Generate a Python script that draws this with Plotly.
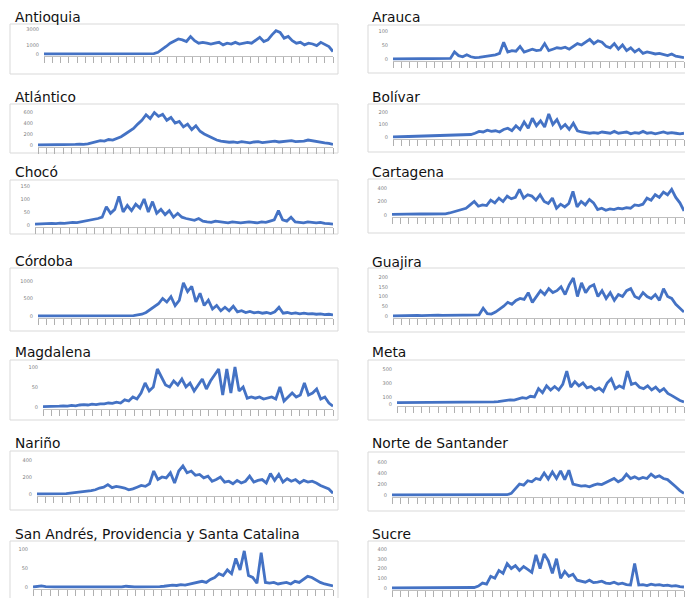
import plotly.graph_objects as go

W, H = 685, 598

titles = ["Antioquia", "Atlántico", "Chocó", "Córdoba", "Magdalena", "Nariño",
          "San Andrés, Providencia y Santa Catalina",
          "Arauca", "Bolívar", "Cartagena", "Guajira", "Meta", "Norte de Santander", "Sucre"]

antioquia = [0]*27 + [50, 200, 500, 900, 1300, 1600, 1800, 1700, 1500, 2100, 1600, 1300, 1400, 1300,
             1200, 1300, 1400, 1100, 1300, 1200, 1400, 1200, 1300, 1400, 1300, 1700, 2000, 1500, 1700,
             2300, 2800, 2600, 1900, 2100, 1600, 1300, 1400, 1100, 1300, 1200, 1000, 1400, 1100, 900, 300]
atlantico = [0, 0, 5, 10, 5, 0, 5, 10, 5, 10, 15, 10, 20, 40, 60, 80, 70, 100, 90, 120, 150, 200, 250,
             300, 380, 450, 550, 480, 590, 520, 560, 450, 500, 400, 430, 330, 380, 280, 350, 250, 200,
             160, 120, 90, 70, 60, 50, 55, 45, 60, 50, 40, 55, 60, 45, 50, 65, 70, 55, 60, 75, 80, 60,
             65, 70, 90, 75, 60, 55, 40, 30, 10]
choco = [3, 4, 5, 4, 6, 5, 7, 6, 8, 10, 9, 12, 15, 18, 20, 25, 30, 70, 45, 60, 110, 50, 75, 55, 80, 65,
         100, 50, 90, 45, 60, 40, 55, 30, 45, 30, 25, 20, 18, 25, 15, 12, 10, 15, 12, 10, 8, 12, 10, 8,
         10, 12, 10, 8, 12, 10, 15, 20, 55, 20, 15, 30, 12, 10, 8, 12, 10, 8, 10, 6, 5, 3]
cordoba = [0]*23 + [10, 30, 50, 100, 180, 250, 350, 500, 400, 550, 300, 450, 950, 700, 850, 400, 650,
           300, 450, 200, 300, 150, 250, 150, 280, 120, 150, 100, 130, 90, 110, 80, 100, 70, 120, 250,
           80, 100, 70, 90, 60, 80, 60, 70, 50, 60, 40, 50, 30]
magdalena = [1, 1, 2, 1, 2, 3, 2, 4, 3, 5, 6, 5, 7, 6, 8, 8, 10, 9, 12, 10, 18, 15, 25, 20, 35, 60, 40,
             50, 95, 75, 55, 50, 65, 55, 70, 50, 60, 40, 55, 70, 45, 65, 80, 95, 30, 95, 35, 100, 40,
             50, 22, 25, 22, 25, 20, 22, 25, 20, 50, 15, 25, 35, 25, 30, 60, 30, 35, 45, 20, 25, 10, 2]
narino = [0, 0, 0, 1, 1, 2, 3, 5, 10, 15, 20, 25, 30, 40, 50, 70, 80, 110, 75, 90, 80, 70, 50, 60, 80,
          100, 90, 120, 270, 170, 200, 190, 250, 130, 270, 330, 250, 270, 220, 230, 190, 210, 150, 170,
          200, 140, 150, 120, 160, 130, 150, 210, 140, 160, 170, 130, 240, 160, 230, 140, 180, 150,
          170, 130, 160, 140, 150, 130, 100, 80, 60, 10]
san_andres = [0, 1, 3, 1] + [0]*18 + [2, 0, 0, 0, 0, 0, 1, 0, 1] + [2, 3, 5, 4, 6, 5, 8, 10, 12, 15, 12,
              20, 25, 35, 30, 45, 35, 75, 45, 95, 30, 25, 10, 90, 12, 10, 12, 8, 10, 12, 8, 15, 12, 20,
              28, 25, 18, 12, 8, 5, 3]
arauca = [0, 0, 0, 0, 0, 0, 1, 0, 0, 0, 0, 1, 0, 0, 2, 25, 12, 8, 15, 8, 5, 6, 8, 10, 12, 15, 20, 60,
          25, 30, 28, 45, 25, 30, 35, 30, 32, 55, 30, 35, 40, 38, 42, 35, 45, 55, 50, 60, 70, 55, 65,
          60, 45, 40, 55, 35, 50, 30, 40, 25, 35, 20, 25, 22, 18, 20, 15, 12, 18, 10, 8, 5]
bolivar = [0, 1, 2, 2, 3, 4, 5, 5, 6, 6, 8, 8, 10, 10, 12, 12, 15, 15, 18, 20, 30, 45, 40, 55, 45, 50,
           40, 60, 70, 50, 90, 60, 120, 70, 150, 90, 130, 80, 185, 100, 140, 70, 100, 60, 110, 50, 40,
           35, 30, 35, 30, 40, 35, 30, 45, 30, 35, 40, 25, 35, 30, 45, 30, 35, 25, 30, 40, 30, 35, 30,
           25, 30]
cartagena = [10, 12, 15, 15, 15, 14, 15, 16, 15, 15, 16, 15, 15, 18, 30, 50, 60, 80, 100, 150, 200,
             130, 150, 140, 220, 180, 250, 200, 280, 240, 260, 380, 250, 300, 280, 220, 300, 200, 170,
             250, 100, 160, 120, 170, 350, 120, 200, 150, 230, 180, 80, 100, 70, 90, 80, 100, 90, 110,
             100, 150, 140, 160, 250, 220, 300, 260, 340, 300, 380, 260, 180, 60]
guajira = [0, 1, 1, 2, 1, 2, 3, 2, 3, 4, 3, 5, 3, 4, 5, 4, 6, 5, 4, 5, 4, 6, 40, 12, 10, 20, 35, 50,
           70, 60, 80, 90, 85, 120, 70, 100, 130, 110, 140, 120, 130, 150, 110, 160, 195, 100, 170,
           120, 150, 160, 100, 130, 90, 120, 80, 110, 100, 130, 140, 100, 90, 120, 100, 90, 110, 80,
           140, 100, 90, 60, 40, 20]
meta = [20, 20, 20, 22, 20, 22, 25, 25, 28, 30, 30, 25, 25, 22, 22, 20, 20, 20, 22, 20, 20, 22, 20,
        25, 30, 35, 45, 50, 60, 55, 70, 90, 80, 110, 100, 220, 160, 260, 200, 250, 200, 280, 470, 240,
        320, 260, 300, 230, 250, 200, 230, 180, 300, 360, 220, 260, 230, 470, 280, 300, 240, 220, 260,
        200, 240, 180, 220, 150, 120, 80, 50, 30]
norte_santander = [0, 0, 0, 1, 0, 0, 1, 0, 0, 1, 0, 0, 1, 0, 0, 1, 0, 0, 1, 0, 0, 1, 0, 0, 1, 0, 0, 2,
                   5, 30, 120, 200, 180, 260, 240, 300, 280, 400, 290, 420, 300, 440, 280, 450, 200,
                   180, 160, 170, 150, 180, 200, 190, 230, 260, 300, 240, 280, 380, 300, 330, 290,
                   320, 300, 380, 320, 350, 300, 280, 220, 150, 80, 30]
sucre = [0]*20 + [5, 20, 50, 40, 120, 100, 180, 150, 250, 200, 230, 180, 220, 190, 160, 340, 200, 350,
         280, 150, 300, 100, 170, 120, 140, 80, 70, 60, 80, 55, 60, 70, 50, 45, 60, 40, 50, 35, 30, 250,
         30, 35, 25, 40, 30, 35, 25, 30, 20, 25, 15, 10]

series = [antioquia, atlantico, choco, cordoba, magdalena, narino, san_andres,
          arauca, bolivar, cartagena, guajira, meta, norte_santander, sucre]

y_ticks = [[0, 1000, 3000], [0, 200, 400, 600], [0, 50, 100, 150], [0, 500, 1000],
           [0, 50, 100], [0, 200, 400], [0, 50, 100],
           [0, 50, 100], [0, 100, 200], [0, 200, 400], [0, 50, 100, 150, 200],
           [0, 100, 300, 500], [0, 200, 400, 600], [0, 100, 200, 300, 400]]

# layout (pixels): col, title_y, box_y0, box_y1, plot_x0, top-tick pixel, zero pixel
geom = [
    (0, 17, 24, 74, 44, 29, 54),
    (0, 97, 104, 153, 38, 112, 145),
    (0, 172, 180, 234, 35, 186, 225),
    (0, 261, 268, 331, 38, 281, 316),
    (0, 352, 360, 420, 43, 367, 407),
    (0, 443, 451, 510, 37, 460, 494),
    (0, 534, 541, 605, 33, 549, 587),
    (1, 17, 25, 73, 393, 31, 59),
    (1, 97, 104, 152, 393, 112, 137),
    (1, 172, 179, 233, 392, 188, 215),
    (1, 262, 268, 332, 393, 277, 316),
    (1, 352, 360, 420, 397, 369, 404),
    (1, 443, 452, 511, 392, 462, 495),
    (1, 534, 541, 605, 392, 549, 588),
]

fig = go.Figure()
shapes, annotations = [], []
for k, (vals, ticks, g, title) in enumerate(zip(series, y_ticks, geom, titles)):
    col, ty, by0, by1, px0, ptop, pbase = g
    idx = k + 1
    xa = "x" if idx == 1 else f"x{idx}"
    ya = "y" if idx == 1 else f"y{idx}"
    px1 = 333 if col == 0 else 684
    bx0 = 10 if col == 0 else 368
    bx1 = 338 if col == 0 else 700
    T = ticks[-1]
    ppu = (pbase - ptop) / T
    top_px = ptop - 4
    bot_px = pbase + 1.5
    yr = [-(1.5) / ppu, T + 4 / ppu]
    n = len(vals)
    fig.add_trace(go.Scatter(x=list(range(n)), y=vals, mode="lines",
                             line=dict(color="#4472C4", width=2.8),
                             xaxis=xa, yaxis=ya, showlegend=False, hoverinfo="skip"))
    xkey = "xaxis" if idx == 1 else f"xaxis{idx}"
    ykey = "yaxis" if idx == 1 else f"yaxis{idx}"
    fig.layout[xkey] = dict(domain=[px0 / W, px1 / W], anchor=ya, range=[0, n - 1],
                            tickmode="linear", tick0=0, dtick=(n - 1) / 35,
                            ticks="outside", ticklen=6, tickwidth=1, tickcolor="#b0b0b0",
                            showticklabels=False, showgrid=False, zeroline=False,
                            showline=True, linecolor="#bfbfbf", fixedrange=True)
    fig.layout[ykey] = dict(domain=[1 - bot_px / H, 1 - top_px / H], anchor=xa, range=yr,
                            tickmode="array", tickvals=ticks, showgrid=False, zeroline=False,
                            showline=False, ticks="", ticklabelstandoff=4,
                            tickfont=dict(size=5, color="#808080", family="DejaVu Sans"),
                            fixedrange=True)
    shapes.append(dict(type="rect", xref="paper", yref="paper",
                       x0=bx0 / W, x1=bx1 / W, y0=1 - by1 / H, y1=1 - by0 / H,
                       line=dict(color="#d9d9d9", width=1), fillcolor="white", layer="below"))
    annotations.append(dict(text=title, xref="paper", yref="paper",
                            x=(13 if col == 0 else 370) / W, y=1 - ty / H,
                            xanchor="left", yanchor="middle", showarrow=False,
                            font=dict(size=13.8, color="#111111", family="DejaVu Sans")))

fig.update_layout(width=W, height=H, margin=dict(l=0, r=0, t=0, b=0),
                  paper_bgcolor="white", plot_bgcolor="rgba(0,0,0,0)",
                  shapes=shapes, annotations=annotations)
fig.write_html("out.html", config={"displayModeBar": False},
               post_script="document.body.style.margin='0px';document.body.style.overflow='hidden';")
